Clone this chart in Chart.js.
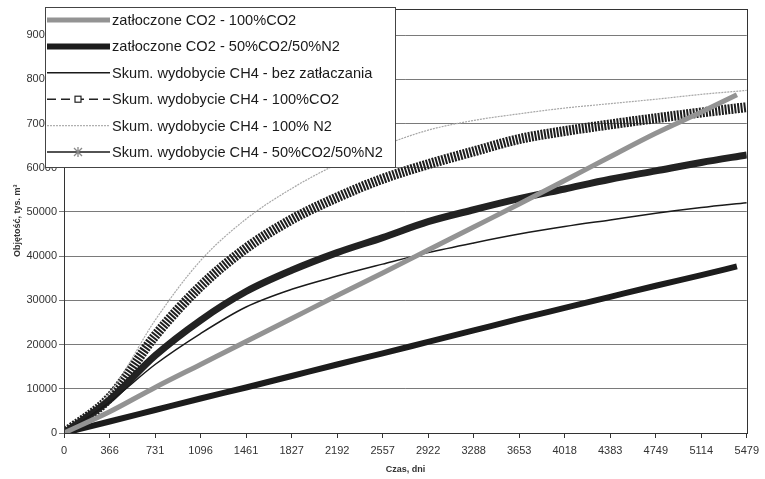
<!DOCTYPE html>
<html lang="pl">
<head>
<meta charset="utf-8">
<title>Objętość – czas</title>
<script src="https://cdn.jsdelivr.net/npm/chart.js@4/dist/chart.umd.min.js"></script>
<style>
  html, body { margin: 0; padding: 0; background: #fff; }
  #wrap { width: 765px; height: 479px; }
</style>
</head>
<body>
<div id="wrap"><canvas id="wykres" width="765" height="479"></canvas></div>
<script>
/*
  Wykres: skumulowane wydobycie CH4 i zatłoczone CO2 w czasie.
  Wartości (tys. m3), co 365/366 dni.
*/

// oś X – czas w dniach (także etykiety osi)
const dni = [0, 366, 731, 1096, 1461, 1827, 2192, 2557, 2922, 3288, 3653, 4018, 4383, 4749, 5114, 5479];
// serie zatłaczania kończą się trochę wcześniej
const dniZatl = [0, 366, 731, 1096, 1461, 1827, 2192, 2557, 2922, 3288, 3653, 4018, 4383, 4749, 5114, 5400];

// oś Y – podziałka
const yTicks = [0, 10000, 20000, 30000, 40000, 50000, 60000, 70000, 80000, 90000];

const etykiety = [
  'zatłoczone CO2 - 100%CO2',
  'zatłoczone CO2 - 50%CO2/50%N2',
  'Skum. wydobycie CH4 - bez zatłaczania',
  'Skum. wydobycie CH4 - 100%CO2',
  'Skum. wydobycie CH4 - 100% N2',
  'Skum. wydobycie CH4 - 50%CO2/50%N2'
];

const zatlCO2 = [0, 4800, 10300, 15500, 20700, 25900, 31100, 36200, 41400, 46600, 51800, 57100, 62500, 67800, 72600, 76500];
const zatlMix = [0, 2600, 5200, 7800, 10300, 12900, 15500, 18000, 20600, 23200, 25800, 28300, 30800, 33300, 35700, 37700];
const wydBez  = [0, 7000, 15500, 22500, 28500, 32500, 35500, 38200, 40800, 43000, 45000, 46700, 48200, 49700, 51000, 52100];
const wydCO2  = [0, 7500, 17500, 25500, 32000, 36800, 40800, 44200, 47800, 50500, 53000, 55200, 57400, 59300, 61200, 62900];
const wydN2   = [0, 9000, 25500, 39000, 48400, 55300, 60800, 65000, 68500, 70700, 72200, 73500, 74500, 75500, 76600, 77500];
const wydMix  = [0, 8000, 22000, 33200, 41800, 48300, 53300, 57500, 60800, 63700, 66500, 68300, 69800, 71200, 72500, 73700];

// pomocnicza: łączy dni z wartościami w punkty {x, y}
const punkty = (xs, ys) => xs.map((x, i) => ({ x: x, y: ys[i] }));

const FONT = '"Liberation Sans", Arial, sans-serif';

/**
 * Ramka obszaru wykresu (jak w Excelu).
 */
const ramka = {
  id: 'ramka',
  afterDatasetsDraw(chart) {
    const { ctx, chartArea: a } = chart;
    ctx.save();
    ctx.strokeStyle = '#333';
    ctx.lineWidth = 1;
    ctx.strokeRect(Math.round(a.left) + 0.5, Math.round(a.top) + 0.5, Math.round(a.right - a.left), Math.round(a.bottom - a.top));
    ctx.restore();
  }
};

/**
 * Legenda rysowana ręcznie – ramka w lewym górnym rogu, na wierzchu wykresu.
 */
const legenda = {
  id: 'legenda',
  afterDraw(chart) {
    const ctx = chart.ctx;
    ctx.save();
    ctx.fillStyle = '#fff';
    ctx.fillRect(45, 7, 350, 160);
    ctx.strokeStyle = '#444';
    ctx.lineWidth = 1;
    ctx.strokeRect(45.5, 7.5, 350, 160);

    chart.data.datasets.forEach((ds, i) => {
      const y = 20 + i * 26.4;
      const p = ds.probka;
      ctx.beginPath();
      ctx.setLineDash(p.dash || []);
      ctx.strokeStyle = p.kolor;
      ctx.lineWidth = p.grubosc;
      ctx.moveTo(47, y);
      ctx.lineTo(110, y);
      ctx.stroke();
      ctx.setLineDash([]);

      if (p.znacznik === 'kwadrat') {
        ctx.fillStyle = '#fff';
        ctx.fillRect(75, y - 3, 6, 6);
        ctx.strokeStyle = '#222';
        ctx.lineWidth = 1.2;
        ctx.strokeRect(75, y - 3, 6, 6);
      } else if (p.znacznik === 'gwiazdka') {
        ctx.strokeStyle = '#888';
        ctx.lineWidth = 1.3;
        ctx.beginPath();
        ctx.moveTo(74, y - 4); ctx.lineTo(82, y + 4);
        ctx.moveTo(82, y - 4); ctx.lineTo(74, y + 4);
        ctx.moveTo(78, y - 5); ctx.lineTo(78, y + 5);
        ctx.stroke();
      }

      ctx.fillStyle = '#1a1a1a';
      ctx.font = '14.6px ' + FONT;
      ctx.textBaseline = 'middle';
      ctx.textAlign = 'left';
      ctx.fillText(ds.label, 112, y + 1);
    });
    ctx.restore();
  }
};

const ctx = document.getElementById('wykres').getContext('2d');

new Chart(ctx, {
  type: 'line',
  data: {
    datasets: [
      {
        label: etykiety[0],
        data: punkty(dniZatl, zatlCO2),
        borderColor: '#939393', borderWidth: 5,
        probka: { kolor: '#939393', grubosc: 5 },
        order: 1
      },
      {
        label: etykiety[1],
        data: punkty(dniZatl, zatlMix),
        borderColor: '#1c1c1c', borderWidth: 6,
        probka: { kolor: '#1c1c1c', grubosc: 6 },
        order: 2
      },
      {
        label: etykiety[2],
        data: punkty(dni, wydBez),
        borderColor: '#1a1a1a', borderWidth: 1.5,
        probka: { kolor: '#1a1a1a', grubosc: 1.5 },
        order: 3
      },
      {
        label: etykiety[3],
        data: punkty(dni, wydCO2),
        borderColor: '#222', borderWidth: 7,
        probka: { kolor: '#222', grubosc: 1.5, dash: [9, 5], znacznik: 'kwadrat' },
        order: 4
      },
      {
        label: etykiety[4],
        data: punkty(dni, wydN2),
        borderColor: '#a8a8a8', borderWidth: 1.2, borderDash: [2, 1],
        probka: { kolor: '#b0b0b0', grubosc: 1.2, dash: [2, 1] },
        order: 5
      },
      {
        label: etykiety[5],
        data: punkty(dni, wydMix),
        borderColor: '#1e1e1e', borderWidth: 10, borderDash: [2, 1.2],
        probka: { kolor: '#1a1a1a', grubosc: 1.5, znacznik: 'gwiazdka' },
        order: 6
      }
    ]
  },
  options: {
    responsive: false,
    animation: false,
    layout: { padding: { top: 6, right: 8, left: 0, bottom: 0 } },
    elements: {
      point: { radius: 0, hoverRadius: 0 },
      line: { cubicInterpolationMode: 'monotone', borderCapStyle: 'butt', fill: false }
    },
    plugins: {
      legend: { display: false },
      tooltip: { enabled: false }
    },
    scales: {
      x: {
        type: 'linear',
        min: 0,
        max: 5479,
        afterBuildTicks: (s) => { s.ticks = dni.map(v => ({ value: v })); },
        afterFit: (s) => { s.height = 46; },
        ticks: {
          autoSkip: false, maxRotation: 0, padding: 6,
          color: '#333', font: { family: FONT, size: 11 },
          callback: (v) => String(v)
        },
        grid: { drawOnChartArea: false, drawTicks: true, tickLength: 5, color: '#333' },
        border: { color: '#333' },
        title: {
          display: true, text: 'Czas, dni', color: '#333',
          font: { family: FONT, size: 9, weight: 'bold' },
          padding: { top: 0, bottom: 4 }
        }
      },
      y: {
        min: 0,
        max: 96000,
        afterBuildTicks: (s) => { s.ticks = yTicks.map(v => ({ value: v })); },
        afterFit: (s) => { s.width = 64; },
        ticks: {
          padding: 2,
          color: '#333', font: { family: FONT, size: 11 },
          callback: (v) => String(v)
        },
        grid: { color: '#7a7a7a', tickLength: 5 },
        border: { color: '#333' },
        title: {
          display: true, text: 'Objętość, tys. m³', color: '#333',
          font: { family: FONT, size: 9, weight: 'bold' },
          padding: { top: 12, bottom: 0 }
        }
      }
    }
  },
  plugins: [ramka, legenda]
});
</script>
</body>
</html>
